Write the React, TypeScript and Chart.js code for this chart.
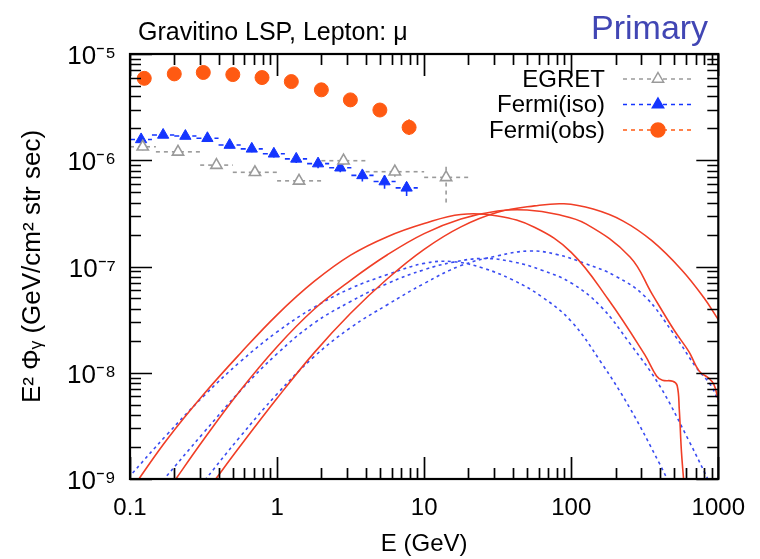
import React, { useEffect, useRef } from "react";
import { Chart, registerables } from "chart.js";
Chart.register(...registerables);

const FONT = "'Liberation Sans', Arial, Helvetica, sans-serif";

// ---- text ----
const titleText = "Gravitino LSP, Lepton: μ";
const cornerText = "Primary";
const xTitle = "E (GeV)";
const yTitle = "E² Φᵧ (GeV/cm² str sec)";

// ---- axes ----
const xTickValues = [0.1, 1, 10, 100, 1000];
const xTickLabels = ["0.1", "1", "10", "100", "1000"];
const yTickValues = [1e-9, 1e-8, 1e-7, 1e-6, 1e-5];
const yTickLabels = ["10⁻⁹", "10⁻⁸", "10⁻⁷", "10⁻⁶", "10⁻⁵"];
const minorMultipliers = [2, 3, 4, 5, 6, 7, 8, 9];

// ---- EGRET ----
const egretE = [0.122, 0.212, 0.387, 0.707, 1.41, 2.83, 6.32, 14.1];
const egretV = [1.34e-6, 1.2e-6, 9.0e-7, 7.7e-7, 6.4e-7, 9.9e-7, 7.8e-7, 6.9e-7];
const egretELow = [0.1, 0.15, 0.3, 0.5, 1, 2, 4, 10];
const egretEHigh = [0.15, 0.3, 0.5, 1, 2, 4, 10, 20];
const egretVLow = [1.24e-6, 1.12e-6, 8.3e-7, 7.1e-7, 5.9e-7, 9.0e-7, 7.0e-7, 4.0e-7];
const egretVHigh = [1.44e-6, 1.28e-6, 9.7e-7, 8.3e-7, 6.9e-7, 1.08e-6, 8.6e-7, 8.7e-7];

// ---- Fermi (iso) ----
const isoE = [0.119, 0.168, 0.238, 0.336, 0.476, 0.673, 0.951, 1.35, 1.9, 2.69, 3.8, 5.38, 7.6];
const isoV = [1.57e-6, 1.73e-6, 1.69e-6, 1.61e-6, 1.39e-6, 1.28e-6, 1.15e-6, 1.03e-6, 9.3e-7, 8.5e-7, 7.2e-7, 6.3e-7, 5.5e-7];
const isoELow = [0.1, 0.141, 0.2, 0.283, 0.4, 0.566, 0.8, 1.13, 1.6, 2.26, 3.2, 4.53, 6.4];
const isoEHigh = [0.141, 0.2, 0.283, 0.4, 0.566, 0.8, 1.13, 1.6, 2.26, 3.2, 4.53, 6.4, 9.05];
const isoVLow = [1.47e-6, 1.63e-6, 1.59e-6, 1.51e-6, 1.3e-6, 1.19e-6, 1.06e-6, 9.4e-7, 8.4e-7, 7.7e-7, 6.3e-7, 5.4e-7, 4.6e-7];
const isoVHigh = [1.67e-6, 1.83e-6, 1.79e-6, 1.71e-6, 1.48e-6, 1.37e-6, 1.24e-6, 1.12e-6, 1.02e-6, 9.3e-7, 8.1e-7, 7.2e-7, 6.4e-7];

// ---- Fermi (obs) ----
const obsE = [0.125, 0.2, 0.315, 0.5, 0.79, 1.25, 2.0, 3.15, 5.0, 7.9];
const obsV = [5.9e-6, 6.5e-6, 6.7e-6, 6.4e-6, 6.0e-6, 5.5e-6, 4.6e-6, 3.7e-6, 2.97e-6, 2.04e-6];
const obsVLow = [5.7e-6, 6.3e-6, 6.5e-6, 6.2e-6, 5.8e-6, 5.3e-6, 4.4e-6, 3.5e-6, 2.8e-6, 1.73e-6];
const obsVHigh = [6.1e-6, 6.7e-6, 6.9e-6, 6.6e-6, 6.2e-6, 5.7e-6, 4.8e-6, 3.9e-6, 3.14e-6, 2.43e-6];

// ---- model curves (solid red) ----
const redAE = [0.107, 0.178, 0.316, 0.562, 1, 1.778, 3.162, 5.623, 10, 17.78, 31.6, 56.2, 100, 177.8, 316, 380, 417, 490, 525, 543, 562, 589];
const redAV = [8.7e-10, 2.34e-9, 6.24e-9, 1.52e-8, 3.51e-8, 7.19e-8, 1.28e-7, 1.91e-7, 2.54e-7, 3.09e-7, 2.99e-7, 2.34e-7, 1.36e-7, 4.94e-8, 1.48e-8, 9.33e-9, 8.51e-9, 8.32e-9, 7.59e-9, 4.47e-9, 1.78e-9, 7.9e-10];
const redBE = [0.191, 0.316, 0.562, 1, 1.778, 3.162, 5.623, 10, 17.78, 31.6, 50.1, 79.4, 125.9, 251, 355, 501, 631, 708, 759, 851, 933, 1000];
const redBV = [8.7e-10, 2.34e-9, 6.81e-9, 1.76e-8, 3.94e-8, 7.41e-8, 1.29e-7, 2.04e-7, 2.8e-7, 3.33e-7, 3.4e-7, 3.1e-7, 2.52e-7, 1.23e-7, 5.5e-8, 2.51e-8, 1.58e-8, 1.15e-8, 1.0e-8, 9.0e-9, 7.76e-9, 5.5e-9];
const redCE = [0.355, 0.562, 1, 1.778, 3.162, 5.623, 10, 17.78, 31.6, 56.2, 89.1, 141, 224, 355, 562, 794, 1000];
const redCV = [8.7e-10, 2.04e-9, 5.75e-9, 1.53e-8, 3.63e-8, 7.67e-8, 1.45e-7, 2.36e-7, 3.24e-7, 3.72e-7, 3.89e-7, 3.47e-7, 2.69e-7, 1.74e-7, 9.33e-8, 5.13e-8, 3.16e-8];

// ---- model curves (dashed blue) ----
const blueAE = [0.097, 0.178, 0.316, 0.562, 1, 1.778, 3.162, 5.623, 10, 15.85, 25.1, 39.8, 63.1, 100, 158.5, 251, 398, 479];
const blueAV = [1.02e-9, 2.61e-9, 6.01e-9, 1.27e-8, 2.42e-8, 4.11e-8, 6.22e-8, 8.39e-8, 1.07e-7, 1.11e-7, 9.66e-8, 7.5e-8, 5.19e-8, 3.05e-8, 1.27e-8, 4.62e-9, 1.4e-9, 8.3e-10];
const blueBE = [0.166, 0.316, 0.562, 1, 1.778, 3.162, 5.623, 10, 15.85, 25.1, 39.8, 63.1, 100, 158.5, 251, 398, 631, 891];
const blueBV = [9.55e-10, 2.72e-9, 6.75e-9, 1.51e-8, 2.92e-8, 4.68e-8, 6.92e-8, 9.33e-8, 1.1e-7, 1.19e-7, 1.11e-7, 9.23e-8, 7.0e-8, 4.22e-8, 1.88e-8, 7.59e-9, 2.29e-9, 8.7e-10];
const blueCE = [0.302, 0.562, 1, 1.778, 3.162, 5.623, 10, 17.78, 31.6, 52.5, 79.4, 125.9, 199.5, 316, 501, 708, 891, 1023];
const blueCV = [8.7e-10, 2.51e-9, 6.31e-9, 1.41e-8, 2.66e-8, 4.37e-8, 6.92e-8, 1.02e-7, 1.26e-7, 1.4e-7, 1.3e-7, 1.06e-7, 8.13e-8, 5.25e-8, 2.29e-8, 1.12e-8, 7.59e-9, 5.01e-9];

const RED = "#f03e26";
const BLUE_CURVE = "#3a4cf2";
const GREY = "#9a9a9a";
const BLUE_PT = "#1435ff";
const ORANGE = "#ff5a12";

const pts = (xs: number[], ys: number[]) => xs.map((x, i) => ({ x, y: ys[i] }));

type ErrSpec = {
  idx: number;
  eLow?: number[];
  eHigh?: number[];
  vLow?: number[];
  vHigh?: number[];
  color: string;
  dash: number[];
};

const errSpecs: ErrSpec[] = [
  { idx: 6, eLow: egretELow, eHigh: egretEHigh, vLow: egretVLow, vHigh: egretVHigh, color: GREY, dash: [4, 4] },
  { idx: 7, eLow: isoELow, eHigh: isoEHigh, vLow: isoVLow, vHigh: isoVHigh, color: BLUE_PT, dash: [5, 4] },
  { idx: 8, vLow: obsVLow, vHigh: obsVHigh, color: ORANGE, dash: [] },
];

const errorBars = {
  id: "errorBars",
  beforeDatasetsDraw(chart: any) {
    const { ctx, chartArea: a, scales } = chart;
    const xs = scales.x, ys = scales.y;
    ctx.save();
    ctx.beginPath();
    ctx.rect(a.left, a.top, a.right - a.left, a.bottom - a.top);
    ctx.clip();
    errSpecs.forEach((s) => {
      const data = chart.data.datasets[s.idx].data as { x: number; y: number }[];
      ctx.strokeStyle = s.color;
      ctx.lineWidth = 1.6;
      ctx.setLineDash(s.dash);
      data.forEach((p, i) => {
        const px = xs.getPixelForValue(p.x);
        const py = ys.getPixelForValue(p.y);
        if (s.eLow && s.eHigh) {
          ctx.beginPath();
          ctx.moveTo(xs.getPixelForValue(s.eLow[i]), py);
          ctx.lineTo(xs.getPixelForValue(s.eHigh[i]), py);
          ctx.stroke();
        }
        if (s.vLow && s.vHigh) {
          ctx.beginPath();
          ctx.moveTo(px, ys.getPixelForValue(s.vLow[i]));
          ctx.lineTo(px, ys.getPixelForValue(s.vHigh[i]));
          ctx.stroke();
        }
      });
    });
    ctx.restore();
  },
};

const frameTicks = {
  id: "frameTicks",
  afterDatasetsDraw(chart: any) {
    const { ctx, chartArea: a, scales } = chart;
    const xs = scales.x, ys = scales.y;
    ctx.save();
    ctx.strokeStyle = "#000";
    ctx.setLineDash([]);
    ctx.lineWidth = 1.7;
    const major = 22, minor = 11;
    const xTick = (v: number, len: number) => {
      const px = Math.round(xs.getPixelForValue(v)) + 0.5;
      ctx.beginPath();
      ctx.moveTo(px, a.bottom); ctx.lineTo(px, a.bottom - len);
      ctx.moveTo(px, a.top); ctx.lineTo(px, a.top + len);
      ctx.stroke();
    };
    const yTick = (v: number, len: number) => {
      const py = Math.round(ys.getPixelForValue(v)) + 0.5;
      ctx.beginPath();
      ctx.moveTo(a.left, py); ctx.lineTo(a.left + len, py);
      ctx.moveTo(a.right, py); ctx.lineTo(a.right - len, py);
      ctx.stroke();
    };
    xTickValues.forEach((d, i) => {
      xTick(d, major);
      if (i < xTickValues.length - 1) minorMultipliers.forEach((m) => xTick(d * m, minor));
    });
    yTickValues.forEach((d, i) => {
      yTick(d, major);
      if (i < yTickValues.length - 1) minorMultipliers.forEach((m) => yTick(d * m, minor));
    });
    ctx.lineWidth = 2.2;
    ctx.strokeRect(a.left, a.top, a.right - a.left, a.bottom - a.top);
    ctx.restore();
  },
};

const drawMarker = (ctx: CanvasRenderingContext2D, style: string, x: number, y: number, r: number, fill: string, stroke: string) => {
  ctx.save();
  ctx.setLineDash([]);
  ctx.beginPath();
  if (style === "circle") {
    ctx.arc(x, y, r, 0, Math.PI * 2);
  } else {
    ctx.moveTo(x, y - r);
    ctx.lineTo(x + r * 0.866, y + r * 0.5);
    ctx.lineTo(x - r * 0.866, y + r * 0.5);
    ctx.closePath();
  }
  ctx.fillStyle = fill;
  ctx.fill();
  ctx.strokeStyle = stroke;
  ctx.lineWidth = 1.5;
  ctx.stroke();
  ctx.restore();
};

const legendRows = [6, 7, 8];

const annotations = {
  id: "annotations",
  afterDraw(chart: any) {
    const { ctx } = chart;
    ctx.save();
    ctx.fillStyle = "#000";
    ctx.font = `25px ${FONT}`;
    ctx.textAlign = "left";
    ctx.textBaseline = "alphabetic";
    ctx.fillText(titleText, 138, 40);
    ctx.fillStyle = "#4146b4";
    ctx.font = `34px ${FONT}`;
    ctx.fillText(cornerText, 591, 39);

    // legend
    ctx.font = `24px ${FONT}`;
    ctx.textAlign = "right";
    ctx.textBaseline = "middle";
    legendRows.forEach((idx, r) => {
      const ds = chart.data.datasets[idx];
      const yy = 79 + r * 25.5;
      ctx.fillStyle = "#000";
      ctx.fillText(ds.label, 605, yy + 1);
      ctx.strokeStyle = ds.errColor;
      ctx.lineWidth = 1.6;
      ctx.setLineDash([4, 4]);
      ctx.beginPath();
      ctx.moveTo(623, yy);
      ctx.lineTo(692, yy);
      ctx.stroke();
      drawMarker(ctx, ds.pointStyle, 658, yy, ds.pointRadius, ds.pointBackgroundColor, ds.pointBorderColor);
    });
    ctx.restore();
  },
};

const curve = (label: string, xs: number[], ys: number[], color: string, dash: number[]) => ({
  label,
  data: pts(xs, ys),
  borderColor: color,
  borderWidth: 1.6,
  borderDash: dash,
  pointRadius: 0,
  showLine: true,
  fill: false,
  tension: 0.4,
  clip: 0,
});

export default function App() {
  const ref = useRef<HTMLCanvasElement>(null);
  useEffect(() => {
    document.body.style.margin = "0";
    const datasets: any[] = [
      curve("Solid A", redAE, redAV, RED, []),
      curve("Solid B", redBE, redBV, RED, []),
      curve("Solid C", redCE, redCV, RED, []),
      curve("Dashed A", blueAE, blueAV, BLUE_CURVE, [3, 3.5]),
      curve("Dashed B", blueBE, blueBV, BLUE_CURVE, [3, 3.5]),
      curve("Dashed C", blueCE, blueCV, BLUE_CURVE, [3, 3.5]),
      {
        label: "EGRET",
        data: pts(egretE, egretV),
        showLine: false,
        pointStyle: "triangle",
        pointRadius: 6.5,
        pointBackgroundColor: "#ffffff",
        pointBorderColor: GREY,
        pointBorderWidth: 1.6,
        errColor: GREY,
      },
      {
        label: "Fermi(iso)",
        data: pts(isoE, isoV),
        showLine: false,
        pointStyle: "triangle",
        pointRadius: 6.5,
        pointBackgroundColor: BLUE_PT,
        pointBorderColor: BLUE_PT,
        pointBorderWidth: 1,
        errColor: BLUE_PT,
      },
      {
        label: "Fermi(obs)",
        data: pts(obsE, obsV),
        showLine: false,
        pointStyle: "circle",
        pointRadius: 7,
        pointBackgroundColor: ORANGE,
        pointBorderColor: ORANGE,
        pointBorderWidth: 1,
        errColor: ORANGE,
      },
    ];
    const chart = new Chart(ref.current!, {
      type: "scatter",
      data: { datasets },
      options: {
        responsive: false,
        animation: false,
        devicePixelRatio: 1,
        layout: { padding: { left: 8, right: 34, top: 54, bottom: 0 } },
        plugins: { legend: { display: false }, tooltip: { enabled: false } },
        scales: {
          x: {
            type: "logarithmic",
            min: 0.1,
            max: 1000,
            grid: { display: false, drawTicks: false },
            border: { display: false },
            afterBuildTicks: (s: any) => {
              s.ticks = xTickValues.map((v) => ({ value: v }));
            },
            afterFit: (s: any) => {
              s.height = 80;
            },
            ticks: {
              autoSkip: false,
              maxRotation: 0,
              padding: 15,
              color: "#000",
              font: { family: FONT, size: 24 },
              callback: (v: any) => {
                const i = xTickValues.findIndex((t) => Math.abs(t - v) / t < 1e-6);
                return i >= 0 ? xTickLabels[i] : "";
              },
            },
            title: {
              display: true,
              text: xTitle,
              color: "#000",
              font: { family: FONT, size: 24 },
              padding: { top: 0, bottom: 0 },
            },
          },
          y: {
            type: "logarithmic",
            min: 1e-9,
            max: 1e-5,
            grid: { display: false, drawTicks: false },
            border: { display: false },
            afterBuildTicks: (s: any) => {
              s.ticks = yTickValues.map((v) => ({ value: v }));
            },
            afterFit: (s: any) => {
              s.width = 122;
            },
            ticks: {
              autoSkip: false,
              padding: 14,
              labelOffset: 3,
              color: "#000",
              font: { family: FONT, size: 26 },
              callback: (v: any) => {
                const i = yTickValues.findIndex((t) => Math.abs(t - v) / t < 1e-6);
                return i >= 0 ? yTickLabels[i] : "";
              },
            },
            title: {
              display: true,
              text: yTitle,
              color: "#000",
              font: { family: FONT, size: 26 },
              padding: { top: 9, bottom: 0 },
            },
          },
        },
      },
      plugins: [errorBars, frameTicks, annotations],
    } as any);
    return () => chart.destroy();
  }, []);
  return (
    <div style={{ position: "absolute", left: 0, top: 0, width: 760, height: 559 }}>
      <canvas ref={ref} width={760} height={559} style={{ display: "block", width: 760, height: 559 }} />
    </div>
  );
}
